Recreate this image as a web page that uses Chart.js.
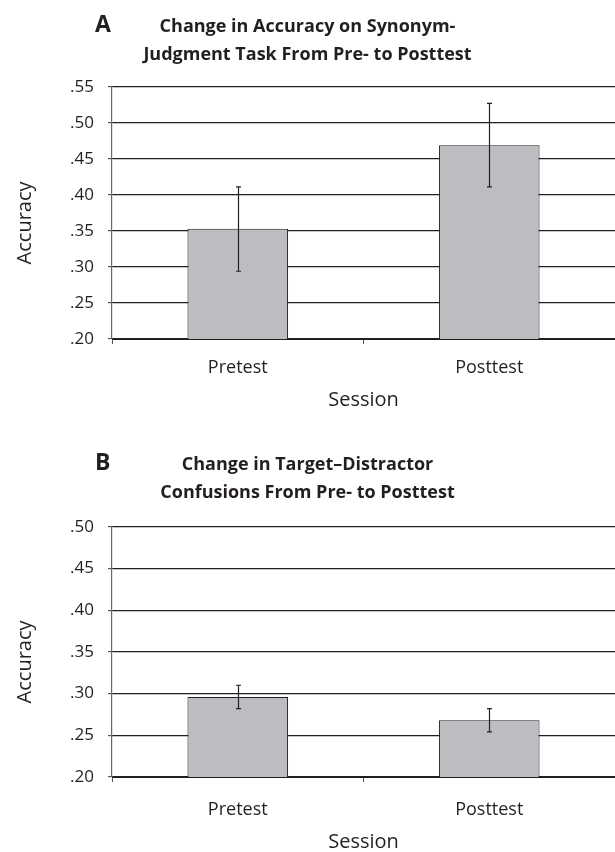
<!DOCTYPE html>
<html>
<head>
<meta charset="utf-8">
<script src="https://cdn.jsdelivr.net/npm/chart.js@4.4.1/dist/chart.umd.min.js"></script>
<style>
  html, body { margin: 0; padding: 0; background: #fff; }
  #wrapA { position: absolute; left: 0; top: 0; width: 615px; height: 420px; }
  #wrapB { position: absolute; left: 0; top: 420px; width: 615px; height: 432px; }
</style>
</head>
<body>
<div id="wrapA"><canvas id="chartA" width="615" height="420"></canvas></div>
<div id="wrapB"><canvas id="chartB" width="615" height="432"></canvas></div>
<script>
// ---- data ----
const sessions = ['Pretest', 'Posttest'];

const titleA = ['Change in Accuracy on Synonym-', 'Judgment Task From Pre- to Posttest'];
const accuracyMeans = [0.353, 0.469];
const accuracyLow = [0.294, 0.411];
const accuracyHigh = [0.411, 0.527];
const yRangeA = [0.20, 0.55];

const titleB = ['Change in Target\u2013Distractor', 'Confusions From Pre- to Posttest'];
const confusionMeans = [0.296, 0.268];
const confusionLow = [0.282, 0.254];
const confusionHigh = [0.310, 0.282];
const yRangeB = [0.20, 0.50];

const yStep = 0.05;
const yAxisLabel = 'Accuracy';
const xAxisLabel = 'Session';

// ---- styling ----
const ink = '#231f20';
const barFill = '#bcbdc0';
const FONT = "'Open Sans', 'DejaVu Sans', sans-serif";

const errorBars = {
  id: 'errorBars',
  afterDatasetsDraw(chart, args, opts) {
    const ctx = chart.ctx;
    const meta = chart.getDatasetMeta(0);
    const ys = chart.scales.y;
    ctx.save();
    ctx.strokeStyle = ink;
    ctx.lineWidth = 1.2;
    meta.data.forEach((bar, i) => {
      const x = Math.round(bar.x) + 0.5;
      const yLo = ys.getPixelForValue(opts.low[i]);
      const yHi = ys.getPixelForValue(opts.high[i]);
      ctx.beginPath();
      ctx.moveTo(x, yLo); ctx.lineTo(x, yHi);
      ctx.moveTo(x - 2.5, yLo); ctx.lineTo(x + 2.5, yLo);
      ctx.moveTo(x - 2.5, yHi); ctx.lineTo(x + 2.5, yHi);
      ctx.stroke();
    });
    ctx.restore();
  }
};

// panel letter and the vertical axis label (placed a little below the plot centre, as in the original)
const sideText = {
  id: 'sideText',
  afterDraw(chart, args, opts) {
    const ctx = chart.ctx;
    ctx.save();
    ctx.fillStyle = ink;
    ctx.font = 'bold 23px ' + FONT;
    ctx.textAlign = 'left';
    ctx.textBaseline = 'middle';
    ctx.fillText(opts.letter, 95, opts.letterY);
    const area = chart.chartArea;
    ctx.translate(25, (area.top + area.bottom) / 2 + 10);
    ctx.rotate(-Math.PI / 2);
    ctx.font = '20px ' + FONT;
    ctx.textAlign = 'center';
    ctx.fillText(yAxisLabel, 0, 0);
    ctx.restore();
  }
};

function makeChart(id, cfg) {
  return new Chart(document.getElementById(id), {
    type: 'bar',
    data: {
      labels: sessions,
      datasets: [{
        data: cfg.means,
        backgroundColor: barFill,
        borderColor: ink,
        borderWidth: 1,
        barPercentage: 0.4,
        categoryPercentage: 1.0
      }]
    },
    plugins: [errorBars, sideText],
    options: {
      responsive: false,
      animation: false,
      devicePixelRatio: 1,
      layout: { padding: { left: 0, right: 0, top: 0, bottom: 0 } },
      plugins: {
        legend: { display: false },
        tooltip: { enabled: false },
        title: {
          display: true,
          text: cfg.title,
          color: ink,
          font: { family: FONT, size: 18, weight: 'bold', lineHeight: 1.55 },
          padding: { top: cfg.titleTop, bottom: cfg.titleBottom }
        },
        errorBars: { low: cfg.low, high: cfg.high },
        sideText: { letter: cfg.letter, letterY: cfg.letterY }
      },
      scales: {
        x: {
          type: 'category',
          offset: true,
          afterFit(s) { s.height = cfg.xHeight; },
          grid: {
            offset: true,
            drawOnChartArea: false,
            drawTicks: true,
            tickLength: 5,
            tickColor: '#555',
            color: '#555'
          },
          border: { display: true, color: ink, width: 1 },
          ticks: {
            color: ink,
            padding: cfg.xLabelPad,
            font: { family: FONT, size: 18 }
          },
          title: {
            display: true,
            text: xAxisLabel,
            color: ink,
            font: { family: FONT, size: 20, lineHeight: 1 },
            padding: { top: 0, bottom: cfg.xTitlePad }
          }
        },
        y: {
          min: cfg.yRange[0],
          max: cfg.yRange[1],
          afterFit(s) { s.width = 112; },
          grid: {
            color: ink,
            lineWidth: 1.2,
            drawTicks: true,
            tickLength: 4,
            tickColor: '#555'
          },
          border: { display: true, color: '#666', width: 1.2 },
          ticks: {
            stepSize: yStep,
            color: ink,
            padding: 14,
            font: { family: FONT, size: 17 },
            callback: (v) => v.toFixed(2).replace(/^0/, '')
          },
          title: { display: false }
        }
      }
    }
  });
}

makeChart('chartA', {
  title: titleA, means: accuracyMeans, low: accuracyLow, high: accuracyHigh,
  yRange: yRangeA, letter: 'A', letterY: 25,
  titleTop: 13, titleBottom: 18, xHeight: 81, xLabelPad: 13, xTitlePad: 10
});

makeChart('chartB', {
  title: titleB, means: confusionMeans, low: confusionLow, high: confusionHigh,
  yRange: yRangeB, letter: 'B', letterY: 43.5,
  titleTop: 31, titleBottom: 20, xHeight: 75, xLabelPad: 17, xTitlePad: 0
});
</script>
</body>
</html>
